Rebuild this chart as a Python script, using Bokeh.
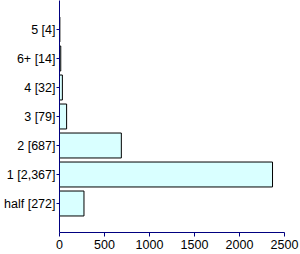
from bokeh.plotting import figure
from bokeh.models import FactorRange, Range1d, ColumnDataSource, FixedTicker
from bokeh.embed import file_html
from bokeh.resources import INLINE

categories = ["5", "6+", "4", "3", "2", "1", "half"]
counts = [4, 14, 32, 79, 687, 2367, 272]
x_ticks = [0, 500, 1000, 1500, 2000, 2500]

labels = [f"{c} [{n:,}]" for c, n in zip(categories, counts)]
factors = list(reversed(labels))

src = ColumnDataSource(dict(y=labels, x=counts))

p = figure(width=300, height=254, output_backend="svg", toolbar_location=None,
           y_range=FactorRange(factors=factors, range_padding=0.5, range_padding_units="absolute"),
           x_range=Range1d(0, 2500),
           min_border_left=59, min_border_right=16, min_border_top=0, min_border_bottom=22)
p.hbar(y="y", right="x", left=0, height=0.86, source=src,
       fill_color="#d9ffff", line_color="black", line_width=1)

p.outline_line_color = None
p.grid.visible = False
for ax in (p.xaxis[0], p.yaxis[0]):
    ax.axis_line_color = "#000080"
    ax.major_tick_line_color = "#000080"
    ax.minor_tick_line_color = None
    ax.major_label_text_font = "Liberation Sans"
    ax.major_label_text_color = "black"
    ax.major_tick_in = 0
p.xaxis[0].major_label_text_font_size = "12.5px"
p.yaxis[0].major_label_text_font_size = "12.5px"
p.xaxis[0].ticker = FixedTicker(ticks=x_ticks)
p.xaxis[0].major_tick_out = 4
p.yaxis[0].major_tick_out = 3
p.xaxis[0].major_label_standoff = 3
p.yaxis[0].major_label_standoff = 1

open("out.html", "w").write(file_html(p, INLINE))
